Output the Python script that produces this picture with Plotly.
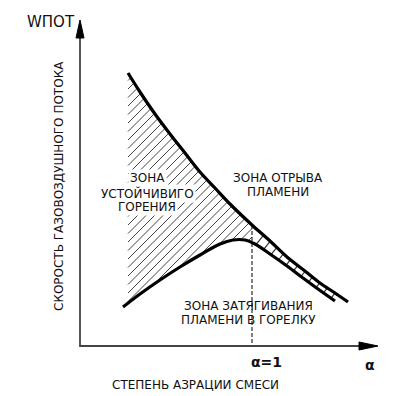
import numpy as np
import plotly.graph_objects as go

# ---- data (schematic, picture units: alpha to the right, W downward on screen) ----
alpha_upper = [128, 140, 155, 170, 185, 200, 215, 230, 252, 270, 287, 305, 320, 335, 348]
w_upper     = [73,  92, 114, 134, 153, 172, 188, 204, 225, 241, 257, 271, 283, 293, 302]
alpha_lower = [123, 140, 160, 180, 200, 220, 233, 245, 255, 270, 287, 303, 318, 335]
w_lower     = [307, 294, 280, 267, 255, 244, 240, 240, 244, 254, 266, 278, 289, 301]
alpha_one = 252
axis_origin = (80, 346)
axis_x_end = 378
axis_y_end = 20

label_w = "WПОТ"
label_y = "СКОРОСТЬ ГАЗОВОЗДУШНОГО ПОТОКА"
label_x = "СТЕПЕНЬ АЗРАЦИИ СМЕСИ"
label_a1 = "α=1"
label_a = "α"
zone_stable = ["ЗОНА", "УСТОЙЧИВИГО", "ГОРЕНИЯ"]
zone_blowoff = ["ЗОНА ОТРЫВА", "ПЛАМЕНИ"]
zone_flashback = ["ЗОНА ЗАТЯГИВАНИЯ", "ПЛАМЕНИ В ГОРЕЛКУ"]

au, wu = np.array(alpha_upper, float), np.array(w_upper, float)
al, wl = np.array(alpha_lower, float), np.array(w_lower, float)
up = lambda x: np.interp(x, au, wu)
lo = lambda x: np.interp(x, al, wl)

# ---- left hatching "/" between curves, left of alpha=1 ----
hx, hy = [], []
xs = np.arange(au[0], alpha_one + 0.01, 0.2)
for c in np.arange(200, 560, 8.5):
    ys = c - xs
    inside = (ys >= up(xs)) & (ys <= lo(xs))
    idx = np.where(inside)[0]
    if len(idx) < 2:
        continue
    runs = np.split(idx, np.where(np.diff(idx) > 1)[0] + 1)
    for r in runs:
        if len(r) < 2:
            continue
        hx += [xs[r[0]], xs[r[-1]], None]
        hy += [ys[r[0]], ys[r[-1]], None]

# ---- ladder hatching right of alpha=1 ----
lx, ly = [], []
d = np.array([0.62, -0.78])
for x0 in np.arange(alpha_one + 4, 334, 7.5):
    y0 = lo(x0)
    ts = np.arange(0, 40, 0.1)
    px, py = x0 + d[0] * ts, y0 + d[1] * ts
    hit = np.where(py <= up(px))[0]
    if len(hit) == 0:
        continue
    t = ts[hit[0]]
    lx += [x0, x0 + d[0] * t, None]
    ly += [y0, y0 + d[1] * t, None]

fig = go.Figure()
fig.add_trace(go.Scatter(x=hx, y=hy, mode="lines", line=dict(color="#444", width=1), hoverinfo="skip"))
fig.add_trace(go.Scatter(x=lx, y=ly, mode="lines", line=dict(color="#333", width=1.2), hoverinfo="skip"))
# dashed alpha = 1
fig.add_trace(go.Scatter(x=[alpha_one, alpha_one], y=[up(alpha_one), axis_origin[1]], mode="lines",
                         line=dict(color="black", width=1, dash="4px,2px"), hoverinfo="skip"))
fig.add_trace(go.Scatter(x=alpha_upper, y=w_upper, mode="lines", line=dict(color="black", width=3.2, shape="spline"), hoverinfo="skip"))
fig.add_trace(go.Scatter(x=alpha_lower, y=w_lower, mode="lines", line=dict(color="black", width=3.2, shape="spline"), hoverinfo="skip"))
# axes
ox, oy = axis_origin
fig.add_trace(go.Scatter(x=[ox, ox, axis_x_end - 16], y=[axis_y_end + 16, oy, oy], mode="lines",
                         line=dict(color="#444", width=1.8), hoverinfo="skip"))
fig.add_trace(go.Scatter(x=[ox - 4, ox, ox + 4, ox - 4], y=[axis_y_end + 18, axis_y_end, axis_y_end + 18, axis_y_end + 18],
                         mode="lines", fill="toself", fillcolor="black", line=dict(color="black", width=1), hoverinfo="skip"))
fig.add_trace(go.Scatter(x=[axis_x_end - 19, axis_x_end, axis_x_end - 19, axis_x_end - 19], y=[oy - 4, oy, oy + 4, oy - 4],
                         mode="lines", fill="toself", fillcolor="black", line=dict(color="black", width=1), hoverinfo="skip"))

def f(size, weight=400):
    return dict(family="DejaVu Sans", size=size, color="#111", weight=weight)

ann = [
    dict(x=77, y=22, text=label_w, font=f(15), xanchor="right"),
    dict(x=59, y=186, text=label_y, textangle=-90, font=f(12)),
    dict(x=195, y=385, text=label_x, font=f(12)),
    dict(x=266, y=362, text=label_a1, font=f(14, 700)),
    dict(x=370, y=365, text=label_a, font=f(14, 700)),
]
for txt, yy in zip(zone_stable, [178, 193, 207]):
    ann.append(dict(x=147, y=yy, text=txt, font=f(12), bgcolor="white", borderpad=1))
for txt, yy in zip(zone_blowoff, [178, 192]):
    ann.append(dict(x=278, y=yy, text=txt, font=f(12)))
for txt, yy in zip(zone_flashback, [306, 320]):
    ann.append(dict(x=248, y=yy, text=txt, font=f(12)))
for a in ann:
    a.setdefault("xanchor", "center")
    a.update(xref="x", yref="y", showarrow=False, yanchor="middle")

fig.update_layout(
    width=393, height=396, margin=dict(l=0, r=0, t=0, b=0),
    paper_bgcolor="white", plot_bgcolor="white", showlegend=False,
    xaxis=dict(range=[0, 393], visible=False, fixedrange=True),
    yaxis=dict(range=[396, 0], visible=False, fixedrange=True),
    annotations=ann,
)
fig.write_html("out.html", config={"displayModeBar": False},
               post_script="document.body.style.margin='0';")
